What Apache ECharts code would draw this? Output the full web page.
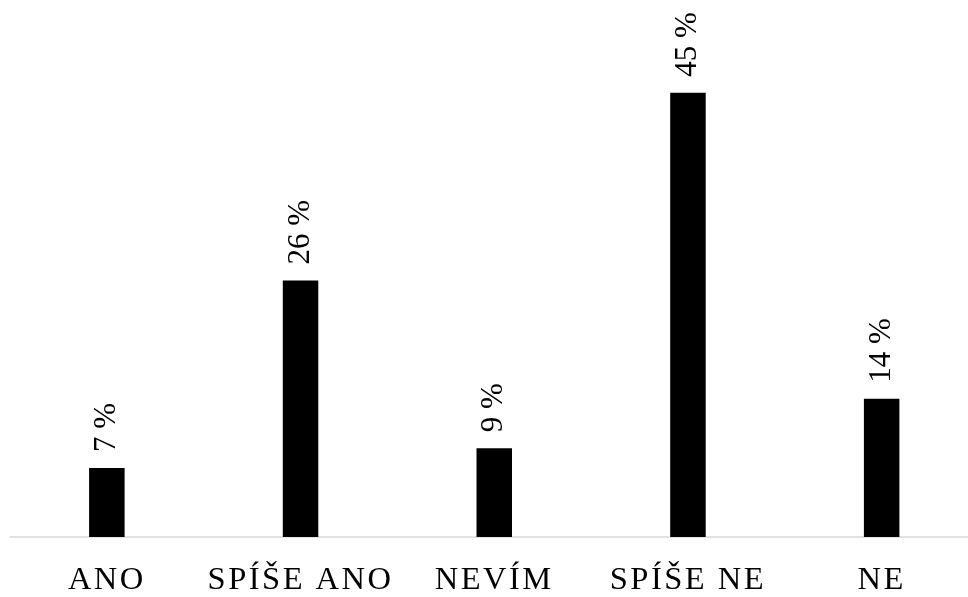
<!DOCTYPE html>
<html>
<head>
<meta charset="utf-8">
<script src="https://cdn.jsdelivr.net/npm/echarts@6/dist/echarts.min.js"></script>
<style>
  html, body { margin: 0; padding: 0; background: #ffffff; overflow: hidden; }
  /* the plot runs a little past the right edge of the window */
  #chart { width: 980px; height: 597px; }
</style>
</head>
<body>
<div id="chart"></div>
<script>
// Survey answers and their shares in percent
const categories = ['ANO', 'SPÍŠE ANO', 'NEVÍM', 'SPÍŠE NE', 'NE'];
const shares = [7, 26, 9, 45, 14];

const serif = 'serif';

// Spaced-out capitals for horizontal text (answer names); rotated value labels stay tight
(function () {
  const proto = CanvasRenderingContext2D.prototype;
  const origFill = proto.fillText;
  proto.fillText = function (text, x, y, maxWidth) {
    if ('letterSpacing' in this) {
      const m = this.getTransform();
      this.letterSpacing = Math.abs(m.b) < 1e-6 ? '2.5px' : '0px';
    }
    return maxWidth === undefined
      ? origFill.call(this, text, x, y)
      : origFill.call(this, text, x, y, maxWidth);
  };
})();

const chart = echarts.init(document.getElementById('chart'), null, { renderer: 'canvas' });
chart.setOption({
  animation: false,
  backgroundColor: '#ffffff',
  textStyle: { fontFamily: serif },
  grid: { left: 10, right: 1.5, top: 43.5, bottom: 53.5, containLabel: false },
  xAxis: {
    type: 'category',
    data: categories,
    axisLine: { show: true, lineStyle: { color: '#d9d9d9', width: 1.5 } },
    axisTick: { show: false },
    axisLabel: {
      interval: 0,
      margin: 27,
      color: '#000000',
      fontFamily: serif,
      fontSize: 32.5
    }
  },
  yAxis: {
    type: 'value',
    min: 0,
    max: 50,
    show: false,
    splitLine: { show: false }
  },
  series: [{
    type: 'bar',
    data: shares,
    barWidth: 35.5,
    itemStyle: { color: '#000000' },
    label: {
      show: true,
      position: 'top',
      distance: 16,
      rotate: 90,
      align: 'left',
      verticalAlign: 'middle',
      color: '#000000',
      fontFamily: serif,
      fontSize: 31,
      formatter: p => p.value + ' %'
    }
  }]
});
</script>
</body>
</html>
